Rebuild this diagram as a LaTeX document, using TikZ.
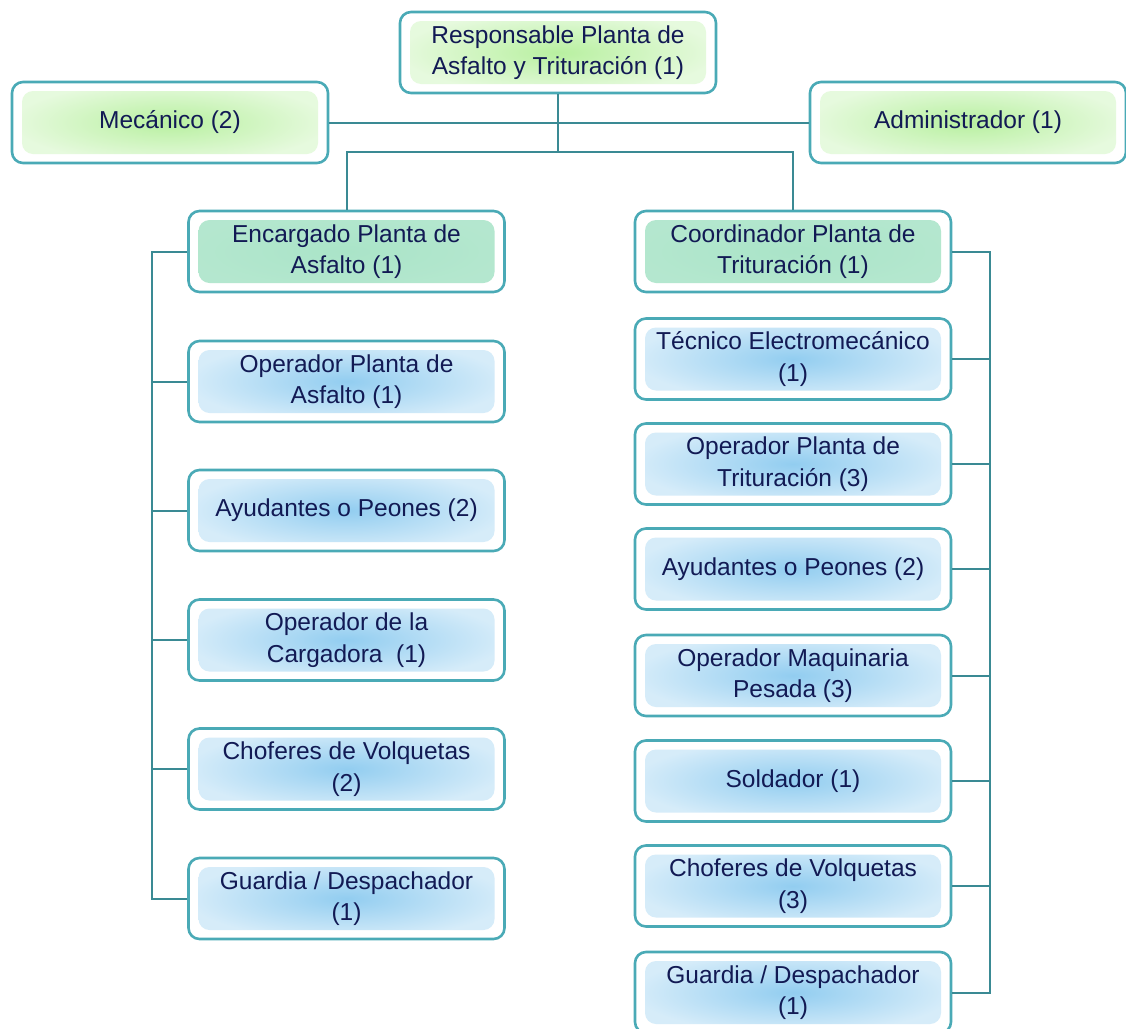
\documentclass[tikz,border=0pt]{standalone}
\usepackage{fontspec}
\setmainfont{Liberation Sans}
\usetikzlibrary{calc}
\definecolor{boxc}{RGB}{74,170,182}
\definecolor{linec}{RGB}{58,138,148}
\definecolor{txt}{RGB}{18,26,84}
\definecolor{grn}{RGB}{184,240,160}
\definecolor{mint}{RGB}{170,228,200}
\definecolor{blu}{RGB}{146,205,240}
\newcommand{\boxfont}{\fontsize{24.5}{31.5}\selectfont}
\tikzset{
  box/.style 2 args={draw=boxc, line width=2.6pt, rounded corners=11pt,
    minimum width=316pt, minimum height=81pt, align=center, text=txt,
    font=\boxfont, inner sep=0pt, fill=white,
    path picture={\shade[inner color=#1, outer color=#1!#2!white]
      ([xshift=10pt,yshift=-9pt]path picture bounding box.north west) rectangle
      ([xshift=-10pt,yshift=9pt]path picture bounding box.south east);}},
  gbox/.style={box={grn}{35}},
  mbox/.style={box={mint}{88}},
  bbox/.style={box={blu}{38}},
  conn/.style={draw=linec, line width=2pt}
}
\begin{document}
\begin{tikzpicture}[x=1pt,y=-1pt]
\useasboundingbox (0,0) rectangle (1126,1028);
% top level
\node[gbox] (top) at (558,52.5) {Responsable Planta de\\Asfalto y Trituración (1)};
\node[gbox] (mec) at (170,122.5) {Mecánico (2)};
\node[gbox] (adm) at (968,122.5) {Administrador (1)};
\node[mbox] (enc) at (346.5,251.5) {Encargado Planta de\\Asfalto (1)};
\node[mbox] (coo) at (793,251.5) {Coordinador Planta de\\Trituración (1)};
% left column
\node[bbox] (l1) at (346.5,381.5) {Operador Planta de\\Asfalto (1)};
\node[bbox] (l2) at (346.5,510.5) {Ayudantes o Peones (2)};
\node[bbox] (l3) at (346.5,640) {Operador de la\\Cargadora~~(1)};
\node[bbox] (l4) at (346.5,769) {Choferes de Volquetas\\(2)};
\node[bbox] (l5) at (346.5,898.5) {Guardia / Despachador\\(1)};
% right column
\node[bbox] (r1) at (793,359) {Técnico Electromecánico\\(1)};
\node[bbox] (r2) at (793,464) {Operador Planta de\\Trituración (3)};
\node[bbox] (r3) at (793,569) {Ayudantes o Peones (2)};
\node[bbox] (r4) at (793,675.5) {Operador Maquinaria\\Pesada (3)};
\node[bbox] (r5) at (793,781) {Soldador (1)};
\node[bbox] (r6) at (793,886) {Choferes de Volquetas\\(3)};
\node[bbox] (r7) at (793,992.5) {Guardia / Despachador\\(1)};
% connectors
\coordinate (j) at (558,152);
\draw[conn] (top.south) -- (j);
\draw[conn] (mec.east) -- (adm.west);
\draw[conn] (enc.north) |- (j) -| (coo.north);
\draw[conn] (enc.west) -- ++(-35,0) |- (l5.west);
\foreach \n in {l1,l2,l3,l4} \draw[conn] (\n.west) -- ++(-35,0);
\draw[conn] (coo.east) -- ++(38,0) |- (r7.east);
\foreach \n in {r1,r2,r3,r4,r5,r6} \draw[conn] (\n.east) -- ++(38,0);
\end{tikzpicture}
\end{document}
